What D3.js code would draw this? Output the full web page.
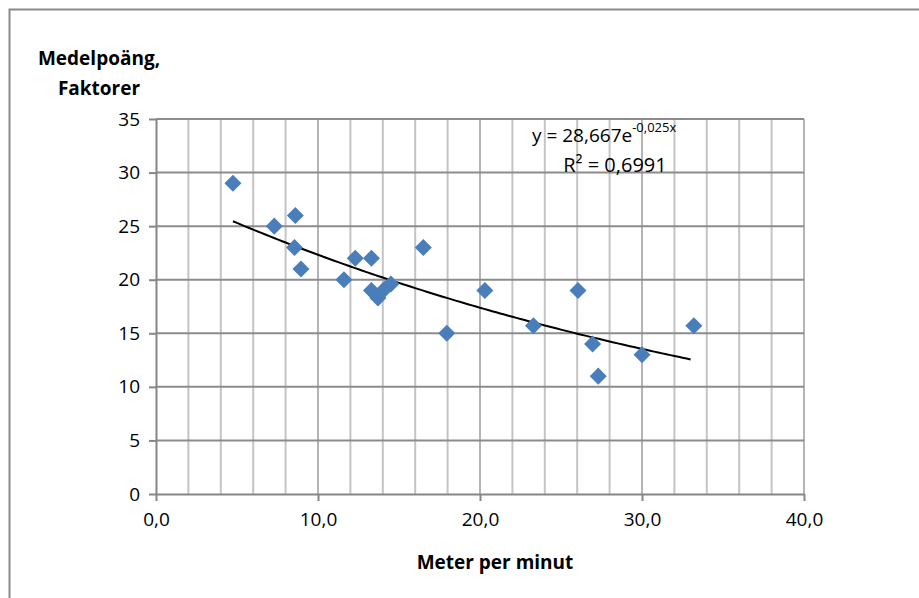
<!DOCTYPE html>
<html>
  <head>
    <meta charset='UTF-8'>
    <style>
    body {
      margin: 0;
      background: #fff;
    }
    text {
      font-family: 'Open Sans', 'Noto Sans', sans-serif;
      fill: #000;
    }
    .grid-minor line {
      stroke: #c4c4c4;
      stroke-width: 2;
    }
    .grid-vmajor line {
      stroke: #b4b4b4;
      stroke-width: 2;
    }
    .grid-major line {
      stroke: #8c8c8c;
      stroke-width: 2;
    }
    .axis path, .axis line {
      stroke: #868686;
      stroke-width: 2;
    }
    </style>
  </head>
  <body>
  <script src='https://cdnjs.cloudflare.com/ajax/libs/d3/7.8.5/d3.min.js'></script>
  <script>

    // meters per minute vs average score
    var meterPerMin = [4.75, 7.3, 8.6, 8.55, 8.95, 11.6, 12.3, 13.3, 13.3, 13.7, 14.1, 14.5,
      16.5, 17.95, 20.3, 23.3, 26.05, 26.95, 27.3, 30.0, 33.2];
    var poang = [29.0, 25.0, 26.0, 23.0, 21.0, 20.0, 22.0, 22.0, 19.0, 18.3, 19.1, 19.6,
      23.0, 15.0, 19.0, 15.7, 19.0, 14.0, 11.0, 13.0, 15.7];
    var xTicks = [0, 10, 20, 30, 40];
    var yTicks = [0, 5, 10, 15, 20, 25, 30, 35];
    var trendA = 28.667, trendB = -0.025;

    var width = 919, height = 598;
    var sv = d3.formatLocale({decimal: ',', thousands: ' ', grouping: [3], currency: ['', ' kr']});
    var fmtX = sv.format('.1f');

    var x = d3.scaleLinear().domain([0, 40]).range([156, 804]);
    var y = d3.scaleLinear().domain([0, 35]).range([494, 119]);

    var svg = d3.select('body')
      .append('svg')
      .attr('width', width)
      .attr('height', height);

    // outer chart border (runs off page to the right and bottom)
    svg.append('rect')
      .attr('x', 9.5).attr('y', 9.5)
      .attr('width', 940).attr('height', 620)
      .attr('fill', 'none')
      .attr('stroke', '#8a8a8a')
      .attr('stroke-width', 2);

    svg.append('g')
      .attr('class', 'grid-minor')
      .selectAll('line')
      .data(d3.range(2, 40, 2).filter(function(d) { return d % 10 !== 0; }))
      .enter().append('line')
      .attr('x1', function(d) { return x(d); })
      .attr('x2', function(d) { return x(d); })
      .attr('y1', y(0)).attr('y2', y(35));

    svg.append('g')
      .attr('class', 'grid-vmajor')
      .selectAll('line')
      .data(xTicks.slice(1))
      .enter().append('line')
      .attr('x1', function(d) { return x(d); })
      .attr('x2', function(d) { return x(d); })
      .attr('y1', y(0)).attr('y2', y(35));

    svg.append('g')
      .attr('class', 'grid-major')
      .selectAll('line')
      .data(yTicks.slice(1))
      .enter().append('line')
      .attr('x1', x(0)).attr('x2', x(40))
      .attr('y1', function(d) { return y(d); })
      .attr('y2', function(d) { return y(d); });

    var xAxis = svg.append('g')
      .attr('class', 'axis')
      .attr('transform', 'translate(0,' + y(0) + ')')
      .call(d3.axisBottom(x).tickValues(xTicks).tickSize(7).tickSizeOuter(0).tickPadding(12).tickFormat(fmtX));
    xAxis.selectAll('text').style('font-size', '19px');

    var yAxis = svg.append('g')
      .attr('class', 'axis')
      .attr('transform', 'translate(' + x(0) + ',0)')
      .call(d3.axisLeft(y).tickValues(yTicks).tickSize(7).tickSizeOuter(0).tickPadding(9));
    yAxis.selectAll('text').style('font-size', '19px');

    // exponential trendline
    var tx = d3.range(d3.min(meterPerMin), d3.max(meterPerMin) + 0.01, 0.25);
    svg.append('path')
      .datum(tx)
      .attr('fill', 'none')
      .attr('stroke', '#000')
      .attr('stroke-width', 2)
      .attr('d', d3.line()
        .x(function(d) { return x(d); })
        .y(function(d) { return y(trendA * Math.exp(trendB * d)); }));

    svg.append('g')
      .selectAll('path')
      .data(meterPerMin)
      .enter().append('path')
      .attr('d', d3.symbol().type(d3.symbolDiamond2).size(185))
      .attr('transform', function(d, i) { return 'translate(' + x(d) + ',' + y(poang[i]) + ')'; })
      .attr('fill', '#4a7ebb');

    // equation label
    var eq = svg.append('text')
      .attr('x', 532).attr('y', 142)
      .style('font-size', '19px');
    eq.append('tspan').text('y = 28,667e');
    eq.append('tspan').attr('dy', -10).style('font-size', '13px').text('-0,025x');
    svg.append('text')
      .attr('x', 615).attr('y', 172)
      .attr('text-anchor', 'middle')
      .style('font-size', '20px')
      .text('R² = 0,6991');

    svg.append('text')
      .attr('x', 99).attr('y', 65)
      .attr('text-anchor', 'middle')
      .style('font-size', '19px').style('font-weight', 'bold')
      .text('Medelpoäng,');
    svg.append('text')
      .attr('x', 99).attr('y', 95)
      .attr('text-anchor', 'middle')
      .style('font-size', '19px').style('font-weight', 'bold')
      .text('Faktorer');

    svg.append('text')
      .attr('x', 495).attr('y', 569)
      .attr('text-anchor', 'middle')
      .style('font-size', '19px').style('font-weight', 'bold')
      .text('Meter per minut');

  </script>
  </body>
</html>
